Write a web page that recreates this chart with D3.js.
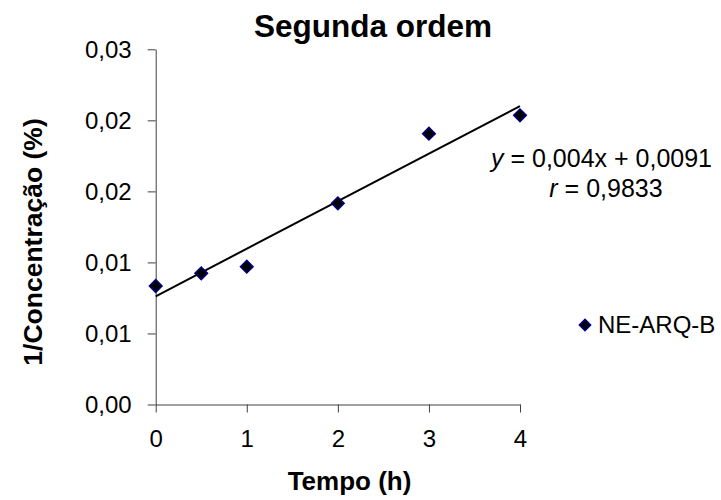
<!DOCTYPE html>
<html>
<head>
<meta charset="utf-8">
<script src="https://cdn.jsdelivr.net/npm/d3@7"></script>
<style>
  html, body { margin: 0; padding: 0; background: #fff; }
  svg { display: block; font-family: "Liberation Sans", Arial, sans-serif; }
</style>
</head>
<body>
<svg id="chart" width="721" height="500"></svg>
<script>
// ---- data ----
const tempo = [0, 0.5, 1, 2, 3, 4];
const invConc = [0.00834, 0.00923, 0.00970, 0.01416, 0.01906, 0.02035];
const xTicks = [0, 1, 2, 3, 4];
const xTickLabels = ["0", "1", "2", "3", "4"];
const yTicks = [0, 0.005, 0.01, 0.015, 0.02, 0.025];
const yTickLabels = ["0,00", "0,01", "0,01", "0,02", "0,02", "0,03"];
const seriesName = "NE-ARQ-B";
const titleText = "Segunda ordem";
const xTitle = "Tempo (h)";
const yTitle = "1/Concentração (%)";
const eqLine1 = ["y", " = 0,004x + 0,0091"];
const eqLine2 = ["r", " = 0,9833"];

const svg = d3.select("#chart");
const x = d3.scaleLinear().domain([0, 4]).range([155.7, 520]);
const y = d3.scaleLinear().domain([0, 0.025]).range([404.5, 49.3]);
const axisColor = "#404040";

// y axis
const yAxis = d3.axisLeft(y).tickValues(yTicks)
  .tickFormat((d, i) => yTickLabels[i]).tickSizeInner(8).tickSizeOuter(0).tickPadding(16);
const gy = svg.append("g").attr("transform", `translate(${x(0)},0)`).call(yAxis);
gy.select(".domain").attr("stroke", axisColor);
gy.selectAll(".tick line").attr("stroke", axisColor);
gy.selectAll(".tick text").attr("font-size", 24).attr("fill", "#000")
  .attr("font-family", "Liberation Sans, Arial, sans-serif").attr("dy", "0.35em");

// x axis
const xAxis = d3.axisBottom(x).tickValues(xTicks)
  .tickFormat((d, i) => xTickLabels[i]).tickSizeInner(8).tickSizeOuter(0).tickPadding(17);
const gx = svg.append("g").attr("transform", `translate(0,${y(0)})`).call(xAxis);
gx.select(".domain").attr("stroke", axisColor);
gx.selectAll(".tick line").attr("stroke", axisColor);
gx.selectAll(".tick text").attr("font-size", 24).attr("fill", "#000")
  .attr("font-family", "Liberation Sans, Arial, sans-serif").attr("dy", "0.71em");

// trendline (least squares on the data)
const n = tempo.length;
const mx = d3.mean(tempo), my = d3.mean(invConc);
let sxy = 0, sxx = 0;
for (let i = 0; i < n; i++) { sxy += (tempo[i] - mx) * (invConc[i] - my); sxx += (tempo[i] - mx) ** 2; }
const slope = sxy / sxx, intercept = my - slope * mx;
const xs = d3.extent(tempo);
svg.append("line")
  .attr("x1", x(xs[0])).attr("y1", y(intercept + slope * xs[0]))
  .attr("x2", x(xs[1])).attr("y2", y(intercept + slope * xs[1]))
  .attr("stroke", "#000").attr("stroke-width", 2);

// markers
const diamond = d3.symbol().type(d3.symbolSquare).size(80);
svg.append("g").selectAll("path").data(tempo).join("path")
  .attr("d", diamond)
  .attr("transform", (d, i) => `translate(${x(d)},${y(invConc[i])}) rotate(45)`)
  .attr("fill", "#000").attr("stroke", "#000080").attr("stroke-width", 1.5);

// title
svg.append("text").attr("x", 373).attr("y", 37).attr("text-anchor", "middle")
  .attr("font-size", 31.5).attr("font-weight", "bold").text(titleText);

// axis titles
svg.append("text").attr("x", 349.5).attr("y", 490).attr("text-anchor", "middle")
  .attr("font-size", 26).attr("font-weight", "bold").text(xTitle);
svg.append("text").attr("transform", "translate(41.5,242) rotate(-90)")
  .attr("text-anchor", "middle").attr("font-size", 26.5).attr("font-weight", "bold").text(yTitle);

// equation
const eq1 = svg.append("text").attr("x", 601.5).attr("y", 167).attr("text-anchor", "middle").attr("font-size", 25);
eq1.append("tspan").attr("font-style", "italic").text(eqLine1[0]);
eq1.append("tspan").text(eqLine1[1]);
const eq2 = svg.append("text").attr("x", 606).attr("y", 197).attr("text-anchor", "middle").attr("font-size", 25);
eq2.append("tspan").attr("font-style", "italic").text(eqLine2[0]);
eq2.append("tspan").text(eqLine2[1]);

// legend
svg.append("path").attr("d", d3.symbol().type(d3.symbolSquare).size(64))
  .attr("transform", "translate(585,325) rotate(45)")
  .attr("fill", "#000").attr("stroke", "#000080").attr("stroke-width", 1.5);
svg.append("text").attr("x", 598).attr("y", 333).attr("font-size", 24).text(seriesName);
</script>
</body>
</html>
